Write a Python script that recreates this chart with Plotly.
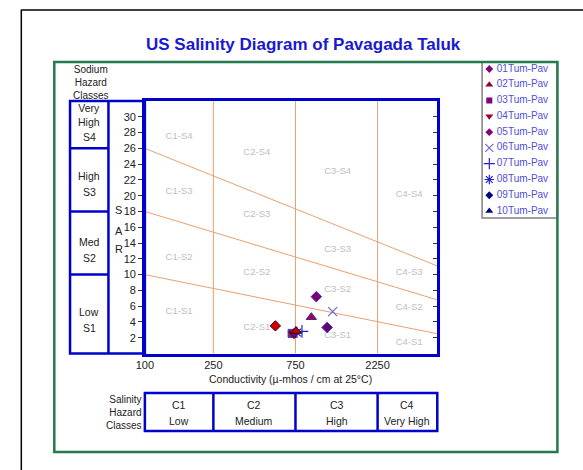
import numpy as np
import plotly.graph_objects as go

W, H = 583, 470

# ---------------- data ----------------
series_names = ["01Tum-Pav", "02Tum-Pav", "03Tum-Pav", "04Tum-Pav", "05Tum-Pav",
                "06Tum-Pav", "07Tum-Pav", "08Tum-Pav", "09Tum-Pav", "10Tum-Pav"]
ec_values = [573, 927, 717, 735, 991, 1233, 818, 765, 1145, 755]
sar_values = [3.5, 4.6, 2.55, 2.45, 7.2, 5.3, 2.8, 2.65, 3.3, 2.85]

symbols = ["diamond", "triangle-up", "square", "triangle-down", "diamond",
           "x-thin-open", "cross-thin-open", "asterisk-open", "diamond", "triangle-up"]
fill_colors = ["#cc0000", "#b0003a", "#8a1a8a", "#990033", "#880066",
               "#6a6acc", "#2222cc", "#2222cc", "#6a006a", "#cc0000"]
edge_colors = ["#550000", "#2a2ab0", "#3333cc", "#550000", "#2222cc",
               "#6a6acc", "#2222cc", "#2222cc", "#2222cc", "#330000"]
legend_fill = ["#800080", "#990033", "#800080", "#990033", "#800080",
               "#6a6acc", "#2222cc", "#2222cc", "#000080", "#000080"]

# boundary lines (Richards diagram)
ec_class_bounds = [250, 750, 2250]
ec_range = [100, 5000]
s_line_start = [10, 18, 26]
s_line_end = [2.5, 6.8, 11.1]
sar_class_bounds = [10, 18, 26]

region_labels = ["C1-S4", "C1-S3", "C1-S2", "C1-S1",
                 "C2-S4", "C2-S3", "C2-S2", "C2-S1",
                 "C3-S4", "C3-S3", "C3-S2", "C3-S1",
                 "C4-S4", "C4-S3", "C4-S2", "C4-S1"]
region_x = [158] * 4 + [447] * 4 + [1318] * 4 + [3430] * 4
region_y = [27.5, 20.5, 12.2, 5.3,
            25.5, 17.6, 10.2, 3.3,
            23.0, 13.2, 8.1, 2.25,
            20.1, 10.2, 5.8, 1.4]

y_ticks = list(range(2, 31, 2))
x_ticks = [100, 250, 750, 2250]
x_ticktext = ["100", "250", "750", "2250"]

sodium_rows = [("Very<br>High", "S4"), ("High", "S3"), ("Med", "S2"), ("Low", "S1")]
salinity_cols = [("C1", "Low"), ("C2", "Medium"), ("C3", "High"), ("C4", "Very High")]

# ---------------- geometry helpers ----------------
def px(x):
    return x / W

def py(y):
    return 1 - y / H

PL, PR, PT, PB = 138, 435, 101, 353.5
XMIN, XMAX = np.log10(ec_range[0]), np.log10(ec_range[1])

def xpix(v):
    return PL + (np.log10(v) - XMIN) / (XMAX - XMIN) * (PR - PL)

def msize(sym, legend=False):
    if sym.endswith("open"):
        return 8 if legend else 9
    if sym.startswith("triangle"):
        return 7 if legend else 9
    return 6 if legend else 8

BLUE = "#0000cc"
ORANGE = "#e8a070"
GREEN = "#237a4c"
FONT = "Liberation Sans, Arial, sans-serif"

fig = go.Figure()

# orange class lines
for b in ec_class_bounds:
    fig.add_trace(go.Scatter(x=[b, b], y=[0, 32], mode="lines",
                             line=dict(color=ORANGE, width=1), hoverinfo="skip",
                             showlegend=False))
for s0, s1 in zip(s_line_start, s_line_end):
    fig.add_trace(go.Scatter(x=ec_range, y=[s0, s1], mode="lines",
                             line=dict(color=ORANGE, width=1), hoverinfo="skip",
                             showlegend=False))

# region labels
fig.add_trace(go.Scatter(x=region_x, y=region_y, text=region_labels, mode="text",
                         textfont=dict(family=FONT, size=9.5, color="#c0c0c0"),
                         hoverinfo="skip", showlegend=False))

# data points
for i, name in enumerate(series_names):
    sym = symbols[i]
    is_line = sym.endswith("open")
    fig.add_trace(go.Scatter(
        x=[ec_values[i]], y=[sar_values[i]], mode="markers", name=name,
        marker=dict(symbol=sym, size=msize(sym),
                    color=fill_colors[i],
                    line=dict(color=edge_colors[i], width=1.2 if is_line else 1)),
        showlegend=False))

# custom legend on its own axes
for i, name in enumerate(series_names):
    sym = symbols[i]
    is_line = sym.endswith("open")
    fig.add_trace(go.Scatter(
        x=[0.09], y=[i + 1], mode="markers", xaxis="x3", yaxis="y3",
        marker=dict(symbol=sym, size=msize(sym, True), color=legend_fill[i],
                    line=dict(color=legend_fill[i], width=1.2 if is_line else 0)),
        hoverinfo="skip", showlegend=False))
fig.add_trace(go.Scatter(
    x=[0.19] * len(series_names), y=list(range(1, len(series_names) + 1)),
    text=series_names, mode="text", textposition="middle right",
    xaxis="x3", yaxis="y3",
    textfont=dict(family=FONT, size=10, color="#5050d8"),
    hoverinfo="skip", showlegend=False))

# dummy trace for right-hand inner ticks
fig.add_trace(go.Scatter(x=[None], y=[None], yaxis="y2", showlegend=False))

shapes = []
# black outer frame (left & top)
shapes.append(dict(type="line", xref="paper", yref="paper", x0=px(12.5), x1=px(12.5),
                   y0=py(470), y1=py(10), line=dict(color="black", width=1.5)))
shapes.append(dict(type="line", xref="paper", yref="paper", x0=px(12), x1=px(583),
                   y0=py(10), y1=py(10), line=dict(color="black", width=1.5)))
# legend box border
shapes.append(dict(type="rect", xref="paper", yref="paper", x0=px(480.5), x1=px(557),
                   y0=py(218), y1=py(62), line=dict(color="#808080", width=1.5)))
# green frame
shapes.append(dict(type="rect", xref="paper", yref="paper", x0=px(46), x1=px(557),
                   y0=py(452), y1=py(62), line=dict(color=GREEN, width=2.5)))
# sodium hazard box
shapes.append(dict(type="rect", xref="paper", yref="paper", x0=px(62), x1=px(PL),
                   y0=py(PB), y1=py(PT), line=dict(color=BLUE, width=2.5)))
shapes.append(dict(type="line", xref="paper", yref="paper", x0=px(101), x1=px(101),
                   y0=py(PB), y1=py(PT), line=dict(color=BLUE, width=2.5)))
for s in sar_class_bounds:
    shapes.append(dict(type="line", xref="paper", yref="y", x0=px(62), x1=px(101),
                       y0=s, y1=s, line=dict(color=BLUE, width=2.5)))
# salinity hazard box
shapes.append(dict(type="rect", xref="paper", yref="paper", x0=px(PL), x1=px(PR),
                   y0=py(431), y1=py(393), line=dict(color=BLUE, width=2.5)))
for b in ec_class_bounds:
    shapes.append(dict(type="line", xref="paper", yref="paper", x0=px(xpix(b)),
                       x1=px(xpix(b)), y0=py(431), y1=py(393),
                       line=dict(color=BLUE, width=2.5)))

annotations = []

def txt(text, x, y, size=10.5, color="#222222", xanchor="center", bold=False, align="center"):
    annotations.append(dict(text=f"<b>{text}</b>" if bold else text, x=px(x), y=py(y),
                            xref="paper", yref="paper", showarrow=False,
                            xanchor=xanchor, yanchor="middle", align=align,
                            font=dict(family=FONT, size=size, color=color)))

txt("US Salinity Diagram of Pavagada Taluk", 299, 45, size=17, color="#1a1acc", bold=True)
txt("Sodium<br>Hazard<br>Classes", 83, 82, size=10, color="#222222")
row_y = [(115, 137), (176, 191.5), (242, 257.5), (312, 328)]
for (a, b), (ya, yb) in zip(sodium_rows, row_y):
    txt(a, 81.5, ya)
    txt(b, 81.5, yb)
for letter, yy in zip(["S", "A", "R"], [209.5, 231, 249]):
    txt(letter, 111.5, yy, size=11)
txt("Conductivity (µ-mhos / cm at 25°C)", 286, 378.5, size=10.5)
txt("Salinity<br>Hazard<br>Classes", 137, 412.5, size=10, xanchor="right", align="right")
edges = [ec_range[0]] + ec_class_bounds + [ec_range[1]]
for k, (a, b) in enumerate(salinity_cols):
    cx = (xpix(edges[k]) + xpix(edges[k + 1])) / 2
    txt(a, cx, 405)
    txt(b, cx, 421)

fig.update_layout(
    width=W, height=H, margin=dict(l=0, r=0, t=0, b=0),
    paper_bgcolor="white", plot_bgcolor="white",
    showlegend=False, shapes=shapes, annotations=annotations,
    xaxis=dict(type="log", range=[XMIN, XMAX], domain=[px(PL), px(PR)],
               tickvals=x_ticks, ticktext=x_ticktext, ticks="", showgrid=False,
               zeroline=False, showline=True, linecolor=BLUE, linewidth=2.5, mirror=True,
               tickfont=dict(family=FONT, size=11, color="#222222")),
    yaxis=dict(range=[0, 32], domain=[py(PB), py(PT)], tickvals=y_ticks,
               ticks="outside", ticklen=4, tickcolor="#333333", showgrid=False,
               zeroline=False, showline=True, linecolor=BLUE, linewidth=2.5, mirror=True,
               tickfont=dict(family=FONT, size=11, color="#222222")),
    yaxis2=dict(range=[0, 32], overlaying="y", side="right", tickvals=y_ticks,
                ticks="inside", ticklen=4, tickcolor="#333333", showticklabels=False,
                showgrid=False, zeroline=False, showline=False),
    xaxis3=dict(domain=[px(481), px(557)], range=[0, 1], visible=False, anchor="y3"),
    yaxis3=dict(domain=[py(218), py(62)], range=[10.44, 0.556], visible=False, anchor="x3"),
)

fig.write_html("out.html", config={"displayModeBar": False},
               post_script="document.body.style.margin='0';"
                           "document.body.style.overflow='hidden';")
